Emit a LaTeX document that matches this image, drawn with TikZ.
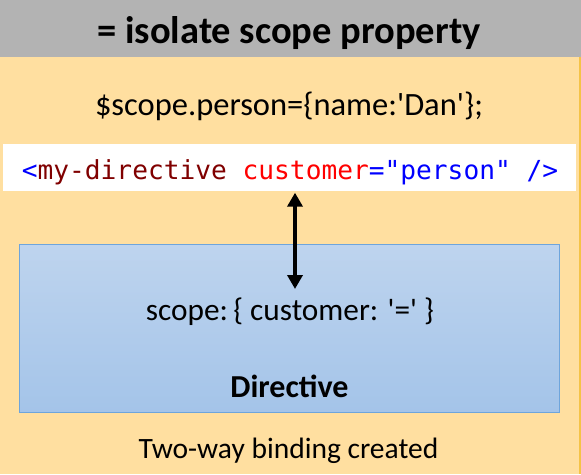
\documentclass[tikz,border=0pt]{standalone}
\usepackage{fontspec}
\setmainfont{Carlito}
\newfontfamily\codefont{DejaVu Sans Mono}
\usetikzlibrary{arrows.meta}
\definecolor{bgorange}{RGB}{255,223,160}
\definecolor{edgegold}{RGB}{245,195,70}
\definecolor{hdrgray}{RGB}{179,179,179}
\definecolor{boxtop}{RGB}{190,212,238}
\definecolor{boxbot}{RGB}{164,196,233}
\definecolor{boxline}{RGB}{110,165,220}
\definecolor{cblue}{RGB}{0,0,255}
\definecolor{cmaroon}{RGB}{128,0,0}
\definecolor{cred}{RGB}{255,0,0}
\tikzset{
  lbl/.style={inner sep=0pt, text=black, anchor=base},
  biarrow/.style={line width=4.5pt, {Triangle[width=15pt,length=14pt]}-{Triangle[width=15pt,length=14pt]}},
}
\begin{document}
\begin{tikzpicture}[x=1pt,y=-1pt]
\useasboundingbox (0,0) rectangle (581,474);
\fill[bgorange] (0,0) rectangle (581,474);
\fill[edgegold] (579,0) rectangle (581,474);
\fill[hdrgray] (0,0) rectangle (581,57);
\node[lbl, font=\fontsize{38.5}{46}\selectfont\bfseries] (title) at (289,43) {= isolate scope property};
\node[lbl, font=\fontsize{32.5}{39}\selectfont] (scopeline) at (289,115) {\$scope.person=\{name:\textquotesingle Dan\textquotesingle\};};
\node[fill=white, minimum width=573pt, minimum height=47pt, inner sep=0pt] (strip) at (289.5,167.5) {};
\node[lbl, font=\fontsize{26.2}{31}\codefont] (code) at (290,179) {\textcolor{cblue}{<}\textcolor{cmaroon}{my-directive} \textcolor{cred}{customer}\textcolor{cblue}{="person" />}};
\node[draw=boxline, line width=0.8pt, top color=boxtop, bottom color=boxbot, minimum width=540pt, minimum height=168pt, inner sep=0pt] (dirbox) at (289.5,328) {};
\node[lbl, font=\fontsize{31.3}{38}\selectfont] (scopedef) at (290,320) {scope:\,\{ customer: \textquotesingle=\textquotesingle\ \}};
\node[lbl, font=\fontsize{32}{38}\selectfont\bfseries] (dirlabel) at (289.5,397) {Directive};
\node[lbl, font=\fontsize{29.5}{36}\selectfont] (twoway) at (288.5,458) {Two-way binding created};
\coordinate (arrtop) at (295,192.7);
\coordinate (arrbot) at (295,289);
\draw[biarrow] (arrtop) -- (arrbot);
\end{tikzpicture}
\end{document}
